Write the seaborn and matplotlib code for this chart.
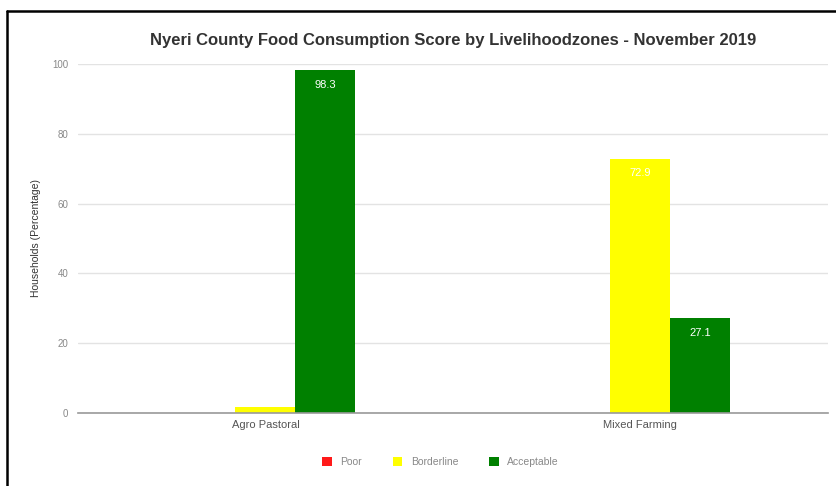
import matplotlib
matplotlib.use("Agg")
import matplotlib.pyplot as plt
from matplotlib.lines import Line2D
from matplotlib.patches import Patch
import pandas as pd
import seaborn as sns

zones = ["Agro Pastoral", "Mixed Farming"]
categories = ["Poor", "Borderline", "Acceptable"]
poor = [0.0, 0.0]
borderline = [1.7, 72.9]
acceptable = [98.3, 27.1]
y_ticks = [0, 20, 40, 60, 80, 100]
colors = {"Poor": "#ff1a1a", "Borderline": "#ffff00", "Acceptable": "#008000"}

rows = []
for cat, vals in zip(categories, [poor, borderline, acceptable]):
    for zone, v in zip(zones, vals):
        rows.append({"zone": zone, "category": cat, "value": v})
df = pd.DataFrame(rows)

sns.set_theme(style="white")
plt.rcParams["font.family"] = ["Liberation Sans", "DejaVu Sans"]

fig = plt.figure(figsize=(8.36, 4.86), dpi=100)
ax = fig.add_axes([0.0933, 0.151, 0.8967, 0.717])

sns.barplot(data=df, x="zone", y="value", hue="category", order=zones,
            hue_order=categories, palette=colors, width=0.48,
            saturation=1, legend=False, linewidth=0, ax=ax)

for cont in ax.containers:
    labels = [f"{b.get_height():.1f}" if b.get_height() > 5 else "" for b in cont]
    ax.bar_label(cont, labels=labels, padding=-14, color="white", fontsize=8)

ax.set_xlim(-0.5, 1.5)
ax.set_ylim(0, 100)
ax.set_yticks(y_ticks)
ax.set_yticklabels([str(t) for t in y_ticks], color="#888888", fontsize=7)
ax.tick_params(axis="x", colors="#555555", labelsize=8, length=0, pad=5)
ax.tick_params(axis="y", length=0, pad=7)
ax.yaxis.grid(True, color="#e3e3e3", linewidth=1)
ax.set_axisbelow(True)
for s in ["top", "right", "left"]:
    ax.spines[s].set_visible(False)
ax.spines["bottom"].set_color("#999999")
ax.spines["bottom"].set_linewidth(1.2)

ax.set_xlabel("")
ax.set_ylabel("Households (Percentage)", fontsize=7.5, color="#333333", labelpad=8)
ax.set_title("Nyeri County Food Consumption Score by Livelihoodzones - November 2019",
             fontsize=12, fontweight="bold", color="#333333", pad=14)

handles = [Patch(facecolor=colors[c], edgecolor="none") for c in categories]
fig.legend(handles, categories, loc="center", bbox_to_anchor=(0.527, 0.049),
           ncol=3, frameon=False, fontsize=7.5, labelcolor="#888888",
           handlelength=0.9, handleheight=0.9, columnspacing=3.0, handletextpad=0.8)

# outer frame: left and top edges
fig.add_artist(Line2D([0.0078, 0.0078], [0.0, 0.978], color="black", linewidth=1.8,
                      transform=fig.transFigure))
fig.add_artist(Line2D([0.0078, 1.0], [0.978, 0.978], color="black", linewidth=1.8,
                      transform=fig.transFigure))

fig.savefig("out.png", dpi=100, facecolor="white")
